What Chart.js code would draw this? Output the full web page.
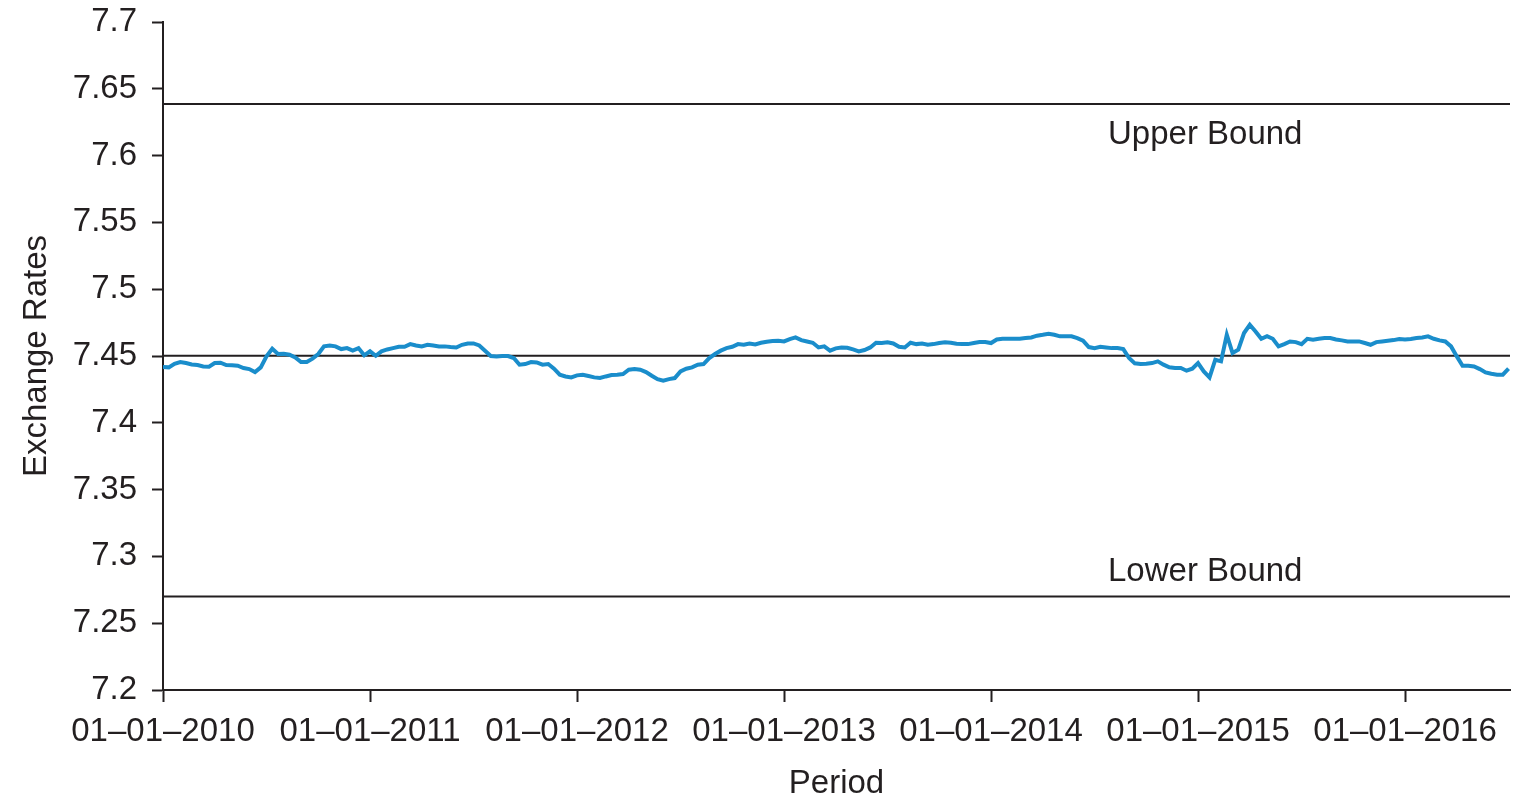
<!DOCTYPE html>
<html>
<head>
<meta charset="utf-8">
<title>Exchange Rates</title>
<script src="https://cdn.jsdelivr.net/npm/chart.js@4.4.1/dist/chart.umd.min.js"></script>
<style>
    body { margin: 0; background: #fff; }
    canvas { display: block; }
</style>
</head>
<body>
<canvas id="rateChart" width="1526" height="799"></canvas>
<script>
// rate read roughly every 10 days (1st, 11th, 21st of each month)
const rates2010 = [7.4417, 7.4415, 7.4442, 7.4455, 7.4447, 7.4437, 7.4432, 7.4422, 7.4420, 7.4447, 7.4450, 7.4432,
    7.4430, 7.4427, 7.4410, 7.4402, 7.4380, 7.4415, 7.4497, 7.4554, 7.4515, 7.4517, 7.4510, 7.4490,
    7.4455, 7.4455, 7.4480, 7.4515, 7.4572, 7.4579, 7.4572, 7.4552, 7.4559, 7.4540, 7.4559, 7.4505];
const rates2011 = [7.4535, 7.4502, 7.4535, 7.4549, 7.4559, 7.4569, 7.4569, 7.4589, 7.4579, 7.4572, 7.4584, 7.4579,
    7.4572, 7.4572, 7.4567, 7.4564, 7.4584, 7.4594, 7.4594, 7.4579, 7.4540, 7.4500, 7.4497, 7.4500,
    7.4500, 7.4485, 7.4435, 7.4440, 7.4455, 7.4452, 7.4435, 7.4440, 7.4405, 7.4360, 7.4347, 7.4340];
const rates2012 = [7.4355, 7.4360, 7.4350, 7.4340, 7.4335, 7.4347, 7.4357, 7.4360, 7.4365, 7.4397, 7.4402, 7.4397,
    7.4380, 7.4352, 7.4327, 7.4315, 7.4327, 7.4335, 7.4385, 7.4405, 7.4415, 7.4435, 7.4440, 7.4485,
    7.4515, 7.4540, 7.4559, 7.4569, 7.4589, 7.4584, 7.4594, 7.4587, 7.4599, 7.4607, 7.4612, 7.4614];
const rates2013 = [7.4609, 7.4627, 7.4639, 7.4619, 7.4609, 7.4599, 7.4564, 7.4572, 7.4540, 7.4557, 7.4564, 7.4562,
    7.4549, 7.4535, 7.4545, 7.4564, 7.4599, 7.4597, 7.4602, 7.4594, 7.4569, 7.4564, 7.4599, 7.4589,
    7.4594, 7.4584, 7.4589, 7.4597, 7.4602, 7.4599, 7.4592, 7.4589, 7.4589, 7.4597, 7.4604, 7.4604];
const rates2014 = [7.4597, 7.4624, 7.4629, 7.4629, 7.4629, 7.4629, 7.4634, 7.4639, 7.4652, 7.4659, 7.4667, 7.4659,
    7.4647, 7.4647, 7.4647, 7.4634, 7.4614, 7.4567, 7.4559, 7.4569, 7.4564, 7.4559, 7.4559, 7.4552,
    7.4485, 7.4445, 7.4440, 7.4442, 7.4447, 7.4460, 7.4435, 7.4415, 7.4410, 7.4410, 7.4390, 7.4405];
const rates2015 = [7.4447, 7.4385, 7.4340, 7.4472, 7.4460, 7.4659, 7.4522, 7.4547, 7.4672, 7.4734, 7.4684, 7.4629,
    7.4649, 7.4629, 7.4572, 7.4589, 7.4609, 7.4604, 7.4589, 7.4629, 7.4622, 7.4629, 7.4634, 7.4634,
    7.4624, 7.4617, 7.4609, 7.4609, 7.4609, 7.4597, 7.4584, 7.4604, 7.4609, 7.4614, 7.4619, 7.4627];
const rates2016 = [7.4624, 7.4627, 7.4634, 7.4639, 7.4647, 7.4629, 7.4617, 7.4609, 7.4572, 7.4497, 7.4427, 7.4427,
    7.4422, 7.4402, 7.4377, 7.4367, 7.4360, 7.4360, 7.4405];

const years = [2010, 2011, 2012, 2013, 2014, 2015, 2016];
const ratesByYear = [rates2010, rates2011, rates2012, rates2013, rates2014, rates2015, rates2016];

const upperBound = 7.6386;
const lowerBound = 7.2700;
const centralRates = [7.4528, 7.4502];   // the middle line shifts slightly in Oct 2010
const centralShift = 0.77;               // years after 01-01-2010

const yTicks = [7.2, 7.25, 7.3, 7.35, 7.4, 7.45, 7.5, 7.55, 7.6, 7.65, 7.7];
const xStart = 2010;
const xEnd = 6.507;                      // early July 2016, in years after xStart

const boundLabels = [
    { text: 'Upper Bound', x: 4.565, y: 7.6154 },
    { text: 'Lower Bound', x: 4.565, y: 7.2883 }
];

// build {x, y} points, x in years since 01-01-2010
const ratePoints = [];
ratesByYear.forEach((list, i) => {
    list.forEach((v, k) => {
        ratePoints.push({ x: years[i] - xStart + k / 36, y: v });
    });
});

const ink = '#231f20';
const fontFamily = '"Liberation Sans", Arial, Helvetica, sans-serif';

const boundLabelPlugin = {
    id: 'boundLabels',
    afterDatasetsDraw(chart) {
        const ctx = chart.ctx;
        const xs = chart.scales.x;
        const ys = chart.scales.y;
        ctx.save();
        ctx.font = '33px ' + fontFamily;
        ctx.fillStyle = ink;
        ctx.textAlign = 'left';
        ctx.textBaseline = 'middle';
        boundLabels.forEach(l => {
            ctx.fillText(l.text, xs.getPixelForValue(l.x), ys.getPixelForValue(l.y));
        });
        ctx.restore();
    }
};

function flatLine(value) {
    return [{ x: 0, y: value }, { x: xEnd, y: value }];
}

const ctx = document.getElementById('rateChart').getContext('2d');
new Chart(ctx, {
    type: 'line',
    data: {
        datasets: [
            {
                label: 'Exchange rate',
                data: ratePoints,
                borderColor: '#1a8dcb',
                borderWidth: 4,
                pointRadius: 0,
                tension: 0
            },
            {
                label: 'Upper Bound',
                data: flatLine(upperBound),
                borderColor: ink,
                borderWidth: 2,
                pointRadius: 0
            },
            {
                label: 'Central',
                data: [{ x: 0, y: centralRates[0] }, { x: centralShift, y: centralRates[1] }, { x: xEnd, y: centralRates[1] }],
                stepped: 'after',
                borderColor: ink,
                borderWidth: 2,
                pointRadius: 0
            },
            {
                label: 'Lower Bound',
                data: flatLine(lowerBound),
                borderColor: ink,
                borderWidth: 2,
                pointRadius: 0
            }
        ]
    },
    options: {
        responsive: false,
        animation: false,
        layout: {
            padding: { top: 22, right: 16, bottom: 0, left: 0 }
        },
        plugins: {
            legend: { display: false },
            tooltip: { enabled: false }
        },
        scales: {
            x: {
                type: 'linear',
                min: 0,
                max: xEnd,
                afterBuildTicks: s => { s.ticks = years.map(y => ({ value: y - xStart })); },
                afterFit: s => { s.height = 109; s.paddingLeft = 0; s.paddingRight = 0; },
                ticks: {
                    color: ink,
                    padding: 10,
                    maxRotation: 0,
                    autoSkip: false,
                    font: { family: fontFamily, size: 33 },
                    callback: v => '01\u201301\u2013' + (xStart + v)
                },
                grid: {
                    drawOnChartArea: false,
                    drawTicks: true,
                    tickLength: 12,
                    tickWidth: 2,
                    tickColor: ink
                },
                border: { display: true, color: ink, width: 2 },
                title: {
                    display: true,
                    text: 'Period',
                    color: ink,
                    font: { family: fontFamily, size: 33, lineHeight: 0.9 },
                    padding: { top: 0, bottom: 0 }
                }
            },
            y: {
                min: 7.2,
                max: 7.7,
                afterBuildTicks: s => { s.ticks = yTicks.map(v => ({ value: v })); },
                afterFit: s => { s.width = 163; s.paddingTop = 0; s.paddingBottom = 0; },
                ticks: {
                    color: ink,
                    padding: 15,
                    font: { family: fontFamily, size: 33 },
                    callback: v => String(+v.toFixed(2))
                },
                grid: {
                    drawOnChartArea: false,
                    drawTicks: true,
                    tickLength: 11,
                    tickWidth: 2,
                    tickColor: ink
                },
                border: { display: true, color: ink, width: 2 },
                title: {
                    display: true,
                    text: 'Exchange Rates',
                    color: ink,
                    font: { family: fontFamily, size: 33, lineHeight: 1.2 },
                    padding: { top: 17, bottom: 0 }
                }
            }
        }
    },
    plugins: [boundLabelPlugin]
});
</script>
</body>
</html>
